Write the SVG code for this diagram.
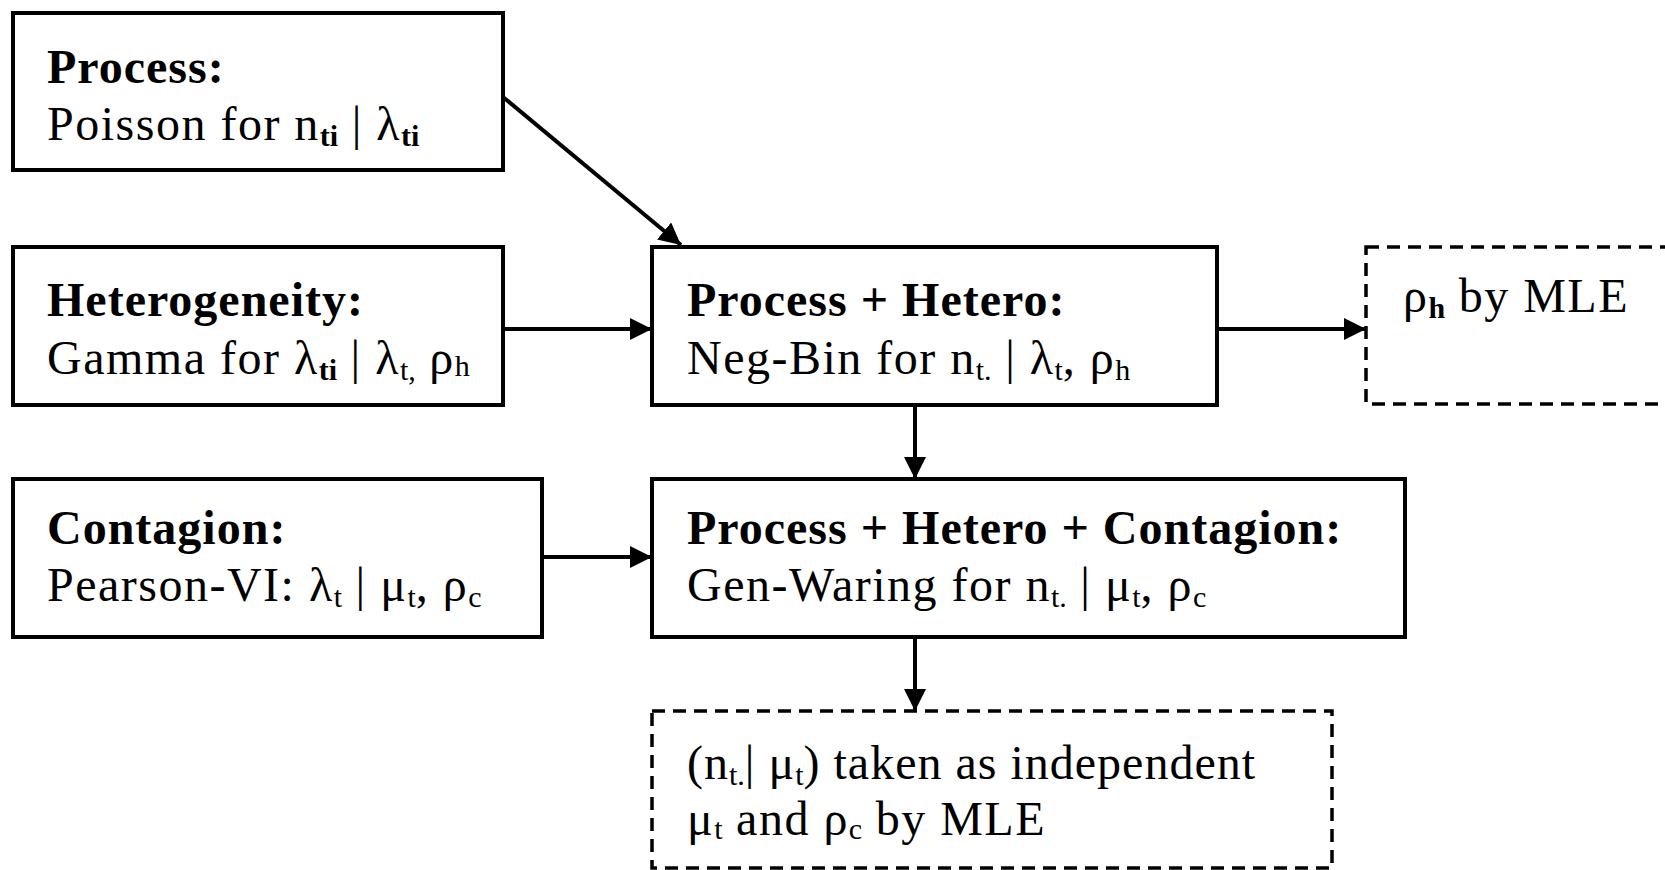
<svg xmlns="http://www.w3.org/2000/svg" width="1665" height="870" viewBox="0 0 1665 870">
<style>
  .box { fill: #fff; stroke: #000; stroke-width: 4; }
  .dash { fill: #fff; stroke: #000; stroke-width: 3.5; stroke-dasharray: 13 8; }
  .t { font-family: "Liberation Serif", "Times New Roman", serif; font-size: 48px; fill: #000; letter-spacing: 1.5px; }
  .b { font-weight: bold; letter-spacing: 1px; }
  .s { font-size: 30px; letter-spacing: 0; }
  .conn { stroke: #000; stroke-width: 4; fill: none; }
</style>
<defs>
  <marker id="ah" markerUnits="userSpaceOnUse" markerWidth="24" markerHeight="22" refX="22" refY="11" orient="auto">
    <path d="M0,0 L22,11 L0,22 Z" fill="#000"/>
  </marker>
</defs>
<rect width="1665" height="870" fill="#fff"/>

<g id="connectors">
  <line class="conn" x1="503" y1="97" x2="681" y2="245" marker-end="url(#ah)"/>
  <line class="conn" x1="503" y1="329" x2="652" y2="329" marker-end="url(#ah)"/>
  <line class="conn" x1="542" y1="557" x2="652" y2="557" stroke-width="6" marker-end="url(#ah)"/>
  <line class="conn" x1="1217" y1="329" x2="1366" y2="329" marker-end="url(#ah)"/>
  <line class="conn" x1="915" y1="405" x2="915" y2="479" marker-end="url(#ah)"/>
  <line class="conn" x1="915" y1="637" x2="915" y2="711" marker-end="url(#ah)"/>
</g>

<g id="process">
  <rect class="box" x="13" y="13" width="490" height="157"/>
  <text class="t b" x="47" y="83">Process:</text>
  <text class="t" x="47" y="140">Poisson for n<tspan class="s b" dy="6">ti</tspan><tspan dy="-6"> | λ</tspan><tspan class="s b" dy="6">ti</tspan></text>
</g>

<g id="heterogeneity">
  <rect class="box" x="13" y="247" width="490" height="158"/>
  <text class="t b" x="47" y="316">Heterogeneity:</text>
  <text class="t" x="47" y="374">Gamma for λ<tspan class="s b" dy="6">ti</tspan><tspan dy="-6"> | λ</tspan><tspan class="s" dy="6">t,</tspan><tspan dy="-6"> ρ</tspan><tspan class="s" dy="2">h</tspan></text>
</g>

<g id="contagion">
  <rect class="box" x="13" y="479" width="529" height="158"/>
  <text class="t b" x="47" y="544">Contagion:</text>
  <text class="t" x="47" y="601">Pearson-VI: λ<tspan class="s" dy="6">t</tspan><tspan dy="-6"> | μ</tspan><tspan class="s" dy="6">t</tspan><tspan dy="-6">, ρ</tspan><tspan class="s" dy="6">c</tspan></text>
</g>

<g id="process-hetero">
  <rect class="box" x="652" y="247" width="565" height="158"/>
  <text class="t b" x="687" y="316">Process + Hetero:</text>
  <text class="t" x="687" y="374">Neg-Bin for n<tspan class="s" dy="6">t.</tspan><tspan dy="-6"> | λ</tspan><tspan class="s" dy="6">t</tspan><tspan dy="-6">, ρ</tspan><tspan class="s" dy="6">h</tspan></text>
</g>

<g id="rho-h-mle">
  <rect class="dash" x="1366" y="247" width="330" height="157"/>
  <text class="t" x="1403" y="312">ρ<tspan class="s b" dy="6">h</tspan><tspan dy="-6"> by MLE</tspan></text>
</g>

<g id="process-hetero-contagion">
  <rect class="box" x="652" y="479" width="753" height="158"/>
  <text class="t b" x="687" y="544">Process + Hetero + Contagion:</text>
  <text class="t" x="687" y="601">Gen-Waring for n<tspan class="s" dy="6">t.</tspan><tspan dy="-6"> | μ</tspan><tspan class="s" dy="6">t</tspan><tspan dy="-6">, ρ</tspan><tspan class="s" dy="6">c</tspan></text>
</g>

<g id="independent-mle">
  <rect class="dash" x="652" y="711" width="680" height="157"/>
  <text class="t" x="687" y="779" style="letter-spacing:1px">(n<tspan class="s" dy="6">t.</tspan><tspan dy="-6">| μ</tspan><tspan class="s" dy="6">t</tspan><tspan dy="-6">) taken as independent</tspan></text>
  <text class="t" x="687" y="835">μ<tspan class="s" dy="4">t</tspan><tspan dy="-4"> and ρ</tspan><tspan class="s" dy="4">c</tspan><tspan dy="-4"> by MLE</tspan></text>
</g>
</svg>
